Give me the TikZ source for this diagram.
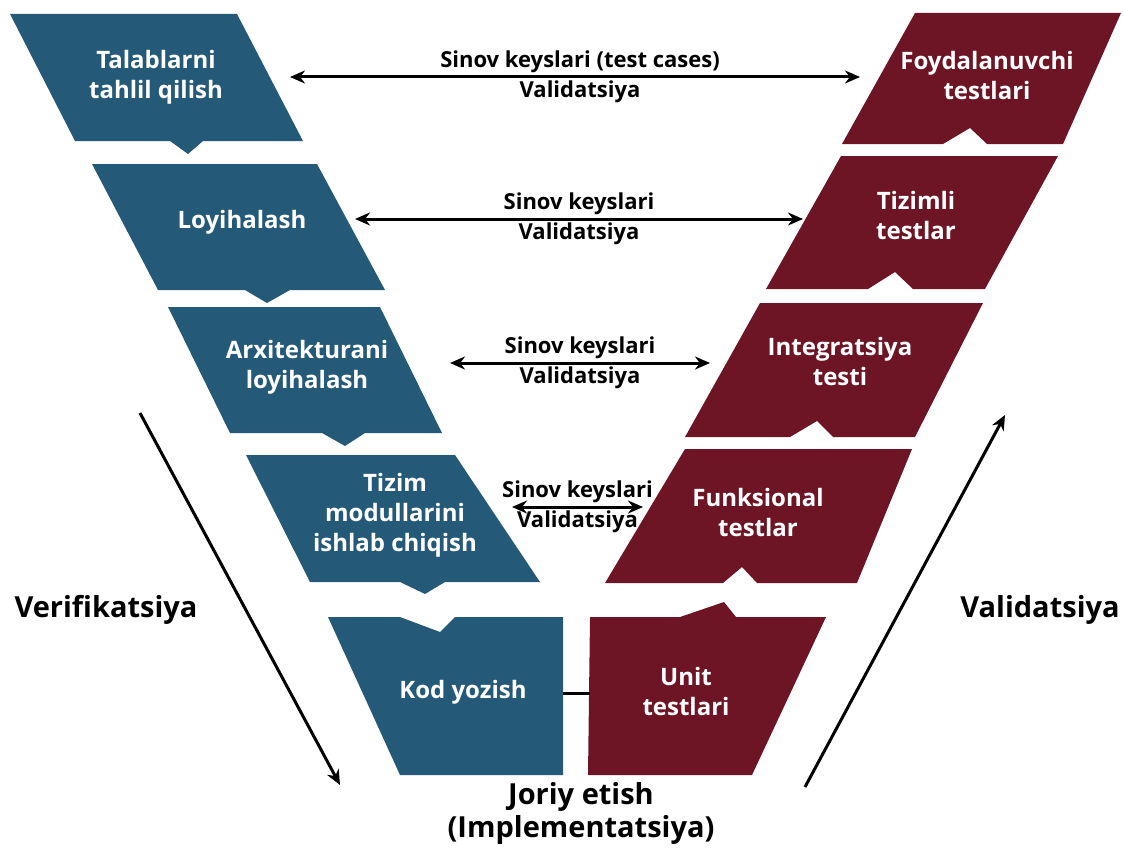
\documentclass[tikz,border=0pt]{standalone}
\usepackage{fontspec}
\setmainfont{Open Sans}
\usepackage{tikz}
\usetikzlibrary{positioning}
\usetikzlibrary{arrows.meta}
\definecolor{myblue}{RGB}{36, 89, 120}
\definecolor{myred}{RGB}{109, 21, 36}

\begin{document}
\begin{tikzpicture}[x=1pt,y=-1pt,thick,>={Stealth[length=15pt,width=13pt]}]
    % uslublar
    \tikzstyle{verif}=[fill=myblue]
    \tikzstyle{valid}=[fill=myred]
    \tikzstyle{box text}=[text=white,font=\bfseries\fontsize{24}{30}\selectfont,align=center]
    \tikzstyle{link}=[line width=3pt]
    \tikzstyle{link text}=[font=\bfseries\fontsize{22}{30}\selectfont,align=center]
    \tikzstyle{side text}=[font=\bfseries\fontsize{29}{33}\selectfont,align=center]
    \useasboundingbox (0,0) rectangle (1123,848);

    % chap tomon (verifikatsiya)
    \fill[verif] (10,14) -- (237,14) -- (303,141) -- (203,141) -- (188,154) -- (170,141) -- (75,141) -- cycle;
    \fill[verif] (92,164) -- (317,164) -- (385,290) -- (290,290) -- (267,303) -- (245,290) -- (158,290) -- cycle;
    \fill[verif] (168,307) -- (380,307) -- (442,433) -- (365,433) -- (345,446) -- (322,433) -- (230,433) -- cycle;
    \fill[verif] (246,455) -- (455,455) -- (540,582) -- (445,582) -- (425,594) -- (400,582) -- (310,582) -- cycle;
    \fill[verif] (328,617) -- (400,617) -- (440,632) -- (455,617) -- (563,617) -- (563,775) -- (400,775) -- cycle;

    % o'ng tomon (validatsiya)
    \fill[valid] (915,13) -- (1121,13) -- (1063,144) -- (987,144) -- (970,128) -- (943,144) -- (842,144) -- cycle;
    \fill[valid] (841,156) -- (1058,156) -- (985,289) -- (913,289) -- (895,272) -- (868,289) -- (766,289) -- cycle;
    \fill[valid] (760,303) -- (983,303) -- (915,437) -- (833,437) -- (817,421) -- (790,437) -- (685,437) -- cycle;
    \fill[valid] (685,449) -- (912,449) -- (857,583) -- (757,583) -- (742,567) -- (723,583) -- (605,583) -- cycle;
    \fill[valid] (590,617) -- (680,617) -- (724,602) -- (736,617) -- (826,617) -- (752,775) -- (588,775) -- cycle;

    \node[box text] (talab) at (156,77) {Talablarni\\tahlil qilish};
    \node[box text] (loyiha) at (242,222) {Loyihalash};
    \node[box text] (arxit) at (307,367) {Arxitekturani\\loyihalash};
    \node[box text] (modul) at (395,515) {Tizim\\modullarini\\ishlab chiqish};
    \node[box text] (kod) at (463,692) {Kod yozish};

    \node[box text] (foyda) at (987,76) {Foydalanuvchi\\testlari};
    \node[box text] (tizimli) at (916,215) {Tizimli\\testlar};
    \node[box text] (integ) at (840,361) {Integratsiya\\testi};
    \node[box text] (funks) at (758,512) {Funksional\\testlar};
    \node[box text] (unit) at (686,691) {Unit\\testlari};

    \coordinate (s1) at (290,77);  \coordinate (e1) at (860,77);
    \coordinate (s2) at (355,219); \coordinate (e2) at (803,219);
    \coordinate (s3) at (450,363); \coordinate (e3) at (710,363);
    \coordinate (s4) at (512,507); \coordinate (e4) at (643,507);
    \coordinate (k) at (563,693);  \coordinate (u) at (590,693);

    \path[<->,link]
    (s1) edge node[link text,xshift=5pt] {Sinov keyslari (test cases)\\Validatsiya} (e1)
    (s2) edge node[link text] {Sinov keyslari\\Validatsiya} (e2)
    (s3) edge node[link text] {Sinov keyslari\\Validatsiya} (e3)
    (s4) edge node[link text] {Sinov keyslari\\Validatsiya} (e4);
    \draw[link] (k) -- (u);

    % yon yozuvlar
    \node[side text] (verifik) at (106,610) {Verifikatsiya};
    \node[side text] (validat) at (1040,610) {Validatsiya};
    \node[side text] (joriy) at (581,813) {Joriy etish\\(Implementatsiya)};

    \coordinate (v1) at (140,413); \coordinate (v2) at (340,785);
    \coordinate (w1) at (805,787); \coordinate (w2) at (1005,415);
    \draw[->,link] (v1) -- (v2);
    \draw[->,link] (w1) -- (w2);
\end{tikzpicture}
\end{document}
